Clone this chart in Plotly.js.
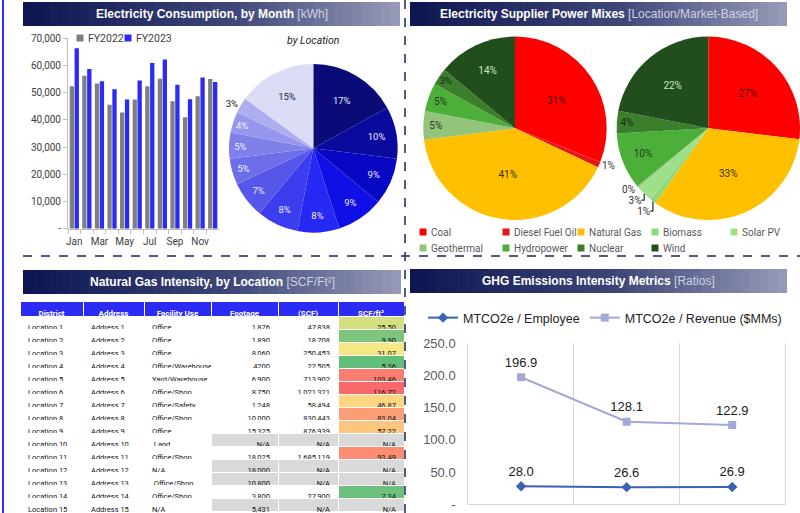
<!DOCTYPE html>
<html><head><meta charset="utf-8">
<script src="https://cdn.plot.ly/plotly-3.0.1.min.js"></script>
<style>html,body{margin:0;padding:0;background:#fff}#chart{width:800px;height:513px}</style>
</head><body><div id="chart"></div>
<script>
// ---------- DATA ----------
const months = ['Jan','Feb','Mar','Apr','May','Jun','Jul','Aug','Sep','Oct','Nov','Dec'];
const monthTickText = ['Jan','','Mar','','May','','Jul','','Sep','','Nov',''];
const fy2022 = [52400,56200,53400,45600,42700,47500,52400,55100,46900,41000,48700,55000];
const fy2023 = [66300,58700,54200,51300,47500,54500,60900,62200,52900,47600,55600,53900];
const fiscalYears = ['FY2022','FY2023'];
const kwhTickVals = [0,10000,20000,30000,40000,50000,60000,70000];
const kwhTickText = ['-','10,000','20,000','30,000','40,000','50,000','60,000','70,000'];

const pieLocations = ['Location 1','Location 2','Location 3','Location 4','Location 5','Location 6','Location 7','Location 8','Location 9','Location 10','Location 11','Location 12'];
const pieLocationShare = [17,10,9,9,8,8,7,5,5,4,3,15];

const sources = ['Coal','Diesel Fuel Oil','Natural Gas','Biomass','Solar PV','Geothermal','Hydropower','Nuclear','Wind'];
const locationBasedMix = [31,1,41,0,0,5,5,3,14];
const marketBasedMix = [27,0,33,1,3,0.3,10,4,22];

const districts = ['Location 1','Location 2','Location 3','Location 4','Location 5','Location 6','Location 7','Location 8','Location 9','Location 10','Location 11','Location 12','Location 13','Location 14','Location 15'];
const addresses = ['Address 1','Address 2','Address 3','Address 4','Address 5','Address 6','Address 7','Address 8','Address 9','Address 10','Address 11','Address 12','Address 13','Address 14','Address 15'];
const facilityUses = ['Office','Office','Office','Office/Warehouse','Yard/Warehouse','Office/Shop','Office/Safety','Office/Shop','Office',' Land','Office/Shop','N/A',' Office/Shop','Office/Shop','N/A'];
const footage = ['1,876','1,890','8,060','4200','6,900','8,750','1,248','10,000','15,325','N/A','18,025','18,000','10,800','3,800','5,431'];
const annualSCF = ['47,838','18,708','250,453','22,505','713,902','1,021,321','58,494','830,443','876,939','N/A','1,685,119','N/A','N/A','27,900','N/A'];
const scfPerFt2 = [25.50,9.90,31.07,5.36,103.46,116.72,46.87,83.04,57.22,null,93.49,null,null,7.34,null];
const tableHeaders = ['District','Address','Facility Use','Footage','(SCF)','SCF/ft²'];

const ghgPeriods = ['FY2021','FY2022','FY2023'];
const perEmployee = [28.0,26.6,26.9];
const perRevenue = [196.9,128.1,122.9];
const ghgTickVals = [0,50,100,150,200,250];
const ghgTickText = ['-','50.0','100.0','150.0','200.0','250.0'];

// ---------- STYLE ----------
const W = 800, H = 513;
const px = x => x / W;
const py = y => 1 - y / H;
const fyColors = ['#7f7f7f','#2b2bf5'];
const sourceColors = ['#ff0000','#e81515','#ffc000','#8fd97c','#9ee08a','#92c47c','#4caf3a','#3b7f2c','#224d1d'];
const sourceTextColors = ['#4a0d0d','#333','#3a3000','#223','#223','#2a3a20','#1f3a14','#162c10','#cfe6c2'];
const locColors = ['#0b0b78','#0a0a9c','#0707c4','#1010e6','#2828f5','#3d3df0','#5656e8','#6e6ee8','#8080ea','#9696ee','#adadf0','#dcdcf6'];
const locTextColors = ['#e8e8ff','#e8e8ff','#e8e8ff','#e8e8ff','#e8e8ff','#e8e8ff','#e8e8ff','#f0f0ff','#f0f0ff','#f0f0ff','#222','#1a1a50'];

function hex(c){return [parseInt(c.slice(1,3),16),parseInt(c.slice(3,5),16),parseInt(c.slice(5,7),16)];}
function mix(a,b,t){const A=hex(a),B=hex(b);return 'rgb('+A.map((v,i)=>Math.round(v+(B[i]-v)*t)).join(',')+')';}
function gradStops(t){const s=[[0,'#0d1550'],[0.55,'#3d4677'],[1,'#979bb8']];for(let i=0;i<s.length-1;i++){if(t<=s[i+1][0]){return mix(s[i][1],s[i+1][1],(t-s[i][0])/(s[i+1][0]-s[i][0]));}}return s[s.length-1][1];}

const shapes = [];
const annotations = [];
function header(x0,x1,y0,y1,html){
  const n = 40;
  for(let i=0;i<n;i++){
    const a = x0 + (x1-x0)*i/n, b = x0 + (x1-x0)*(i+1)/n + 0.6;
    shapes.push({type:'rect',xref:'paper',yref:'paper',x0:px(a),x1:px(Math.min(b,x1)),y0:py(y1),y1:py(y0),
      fillcolor:gradStops((i+0.5)/n),line:{width:0},layer:'below'});
  }
  annotations.push({xref:'paper',yref:'paper',x:px((x0+x1)/2),y:py((y0+y1)/2),xanchor:'center',yanchor:'middle',
    showarrow:false,text:html,font:{family:'Liberation Sans, Arial',size:12,color:'#ffffff'}});
}
const sub = t => ' <span style="font-weight:normal;color:#cfd1e3">'+t+'</span>';
header(23,400,2,26,'<b>Electricity Consumption, by Month</b>'+sub('[kWh]'));
header(410,787,2,26,'<b>Electricity Supplier Power Mixes</b>'+sub('[Location/Market-Based]'));
header(23,401,270,294,'<b>Natural Gas Intensity, by Location</b>'+sub('[SCF/Ft²]'));
header(410,787,269,293,'<b>GHG Emissions Intensity Metrics</b>'+sub('[Ratios]'));

// frame lines
shapes.push({type:'line',xref:'paper',yref:'paper',x0:px(3),x1:px(3),y0:0,y1:1,line:{color:'#3030ff',width:2}});
shapes.push({type:'line',xref:'paper',yref:'paper',x0:px(405),x1:px(405),y0:0,y1:1,line:{color:'#1c2560',width:1.5,dash:'dash'}});
shapes.push({type:'line',xref:'paper',yref:'paper',x0:px(23),x1:1,y0:py(256),y1:py(256),line:{color:'#1c2560',width:1.5,dash:'dash'}});

annotations.push({xref:'paper',yref:'paper',x:px(313),y:py(40),xanchor:'center',yanchor:'middle',showarrow:false,
  text:'<i>by Location</i>',font:{family:'Roboto',size:10.5,color:'#222'}});

// legend keys (swatch + label) for the bar chart and the supplier pies
function legendKey(x,y,color,label,size,fontColor){
  shapes.push({type:'rect',xref:'paper',yref:'paper',x0:px(x-3.5),x1:px(x+3.5),y0:py(y+3.5),y1:py(y-3.5),fillcolor:color,line:{width:0}});
  annotations.push({xref:'paper',yref:'paper',x:px(x+6),y:py(y),xanchor:'left',yanchor:'middle',showarrow:false,
    text:label,font:{family:'Roboto',size:size,color:fontColor}});
}
const barKeyX = [80,128];
fiscalYears.forEach((fy,i)=>legendKey(barKeyX[i],38,fyColors[i],fy,10.5,'#404040'));
const srcKeyX = [423,506,581,655,734], srcKeyY = [232,248];
sources.forEach((s,i)=>legendKey(srcKeyX[i%5],srcKeyY[Math.floor(i/5)],sourceColors[i],s,10,'#595959'));

// intensity colour scale (green - yellow - red)
function intensityColor(v){
  if(v===null) return '#d9d9d9';
  const vals = scfPerFt2.filter(x=>x!==null);
  const lo = Math.min(...vals), hi = Math.max(...vals), mid = 33;
  if(v<=mid) return mix('#63be7b','#ffeb84',(v-lo)/(mid-lo));
  return mix('#ffeb84','#f8696b',(v-mid)/(hi-mid));
}
const naRow = scfPerFt2.map(v=>v===null);
const white = districts.map(()=>'#ffffff');
const grayOrWhite = naRow.map(n=>n?'#d9d9d9':'#ffffff');
const intensityText = scfPerFt2.map(v=>v===null?'N/A':v.toFixed(2));

// ---------- TRACES ----------
const traces = [
  {type:'bar',x:months,y:fy2022,name:fiscalYears[0],marker:{color:fyColors[0]},xaxis:'x',yaxis:'y',showlegend:false,hoverinfo:'skip'},
  {type:'bar',x:months,y:fy2023,name:fiscalYears[1],marker:{color:fyColors[1]},xaxis:'x',yaxis:'y',showlegend:false,hoverinfo:'skip'},
  {type:'pie',labels:pieLocations,values:pieLocationShare,sort:false,direction:'clockwise',rotation:0,
   domain:{x:[px(229),px(397.6)],y:[py(232.6),py(64)]},showlegend:false,
   marker:{colors:locColors,line:{width:0}},
   textinfo:'percent',texttemplate:'%{percent:.0%}',
   textposition:['inside','inside','inside','inside','inside','inside','inside','inside','inside','inside','outside','inside'],
   insidetextorientation:'horizontal',
   insidetextfont:{family:'Roboto',size:9.5,color:locTextColors},
   outsidetextfont:{family:'Roboto',size:9.5,color:'#222'},hoverinfo:'skip'},
  {type:'pie',labels:sources,values:locationBasedMix,sort:false,direction:'clockwise',rotation:0,showlegend:false,
   domain:{x:[px(423.3),px(606.7)],y:[py(220),py(36.6)]},
   marker:{colors:sourceColors,line:{width:0}},
   text:locationBasedMix.map(v=>v>0?Math.round(v)+'%':''),textinfo:'text',
   textposition:['inside','outside','inside','inside','inside','inside','inside','inside','inside'],
   insidetextorientation:'horizontal',
   insidetextfont:{family:'Roboto',size:10,color:sourceTextColors},
   outsidetextfont:{family:'Roboto',size:10,color:'#333'},hoverinfo:'skip'},
  {type:'pie',labels:sources,values:marketBasedMix,sort:false,direction:'clockwise',rotation:0,showlegend:false,
   domain:{x:[px(616.6),px(800)],y:[py(220),py(36.6)]},
   marker:{colors:sourceColors,line:{width:0}},
   text:marketBasedMix.map(v=>v>0?Math.round(v)+'%':''),textinfo:'text',
   textposition:['inside','inside','inside','outside','outside','outside','inside','inside','inside'],
   insidetextorientation:'horizontal',
   insidetextfont:{family:'Roboto',size:10,color:sourceTextColors},
   outsidetextfont:{family:'Roboto',size:10,color:'#333'},hoverinfo:'skip'},
  {type:'table',domain:{x:[px(20),px(404)],y:[0,py(301.7)]},
   columnwidth:[63,61,67,67,60,66],
   header:{values:tableHeaders,align:'center',height:15,fill:{color:'#2b2bf5'},line:{color:'#ffffff',width:1},
     font:{family:'Roboto',size:8,color:'#ffffff',weight:'bold'}},
   cells:{values:[districts,addresses,facilityUses,footage,annualSCF,intensityText],
     align:['left','left','left','right','right','right'],height:13,
     fill:{color:[white,white,white,grayOrWhite,grayOrWhite,scfPerFt2.map(intensityColor)]},
     line:{color:'#ffffff',width:1},font:{family:'Roboto',size:7.5,color:'#111'}}},
  {type:'scatter',mode:'lines+markers',x:ghgPeriods,y:perEmployee,name:'MTCO2e / Employee',xaxis:'x2',yaxis:'y2',
   line:{color:'#3d62b5',width:2},marker:{symbol:'diamond',size:8,color:'#3d62b5'},hoverinfo:'skip'},
  {type:'scatter',mode:'lines+markers',x:ghgPeriods,y:perRevenue,name:'MTCO2e / Revenue ($MMs)',xaxis:'x2',yaxis:'y2',
   line:{color:'#a0a9d9',width:2},marker:{symbol:'square',size:8,color:'#a0a9d9'},hoverinfo:'skip'},
  {type:'scatter',mode:'markers+text',x:ghgPeriods,y:perEmployee,text:perEmployee.map(v=>v.toFixed(1)),textposition:'top center',
   marker:{size:10,color:'rgba(0,0,0,0)'},
   xaxis:'x2',yaxis:'y2',showlegend:false,textfont:{family:'Liberation Sans, Arial',size:13,color:'#1a1a1a'},hoverinfo:'skip'},
  {type:'scatter',mode:'markers+text',x:ghgPeriods,y:perRevenue,text:perRevenue.map(v=>v.toFixed(1)),textposition:'top center',
   marker:{size:10,color:'rgba(0,0,0,0)'},
   xaxis:'x2',yaxis:'y2',showlegend:false,textfont:{family:'Liberation Sans, Arial',size:13,color:'#1a1a1a'},hoverinfo:'skip'}
];

const layout = {
  width:W,height:H,margin:{l:0,r:0,t:0,b:0,autoexpand:false},paper_bgcolor:'#ffffff',plot_bgcolor:'#ffffff',
  font:{family:'Roboto',color:'#404040'},
  barmode:'group',bargap:0.22,bargroupgap:0.12,
  xaxis:{domain:[px(68),px(219)],anchor:'y',type:'category',tickmode:'array',tickvals:months,ticktext:monthTickText,tickangle:0,
    tickson:'boundaries',ticks:'outside',ticklen:4,tickcolor:'#bfbfbf',showline:true,linecolor:'#bfbfbf',showgrid:false,
    ticklabelstandoff:3,tickfont:{family:'Roboto',size:10,color:'#404040'},fixedrange:true},
  yaxis:{domain:[py(228.7),py(38.3)],anchor:'x',range:[0,70000],tickmode:'array',tickvals:kwhTickVals,ticktext:kwhTickText,
    ticks:'outside',ticklen:4,tickcolor:'#bfbfbf',showline:true,linecolor:'#bfbfbf',showgrid:false,zeroline:false,
    tickfont:{family:'Roboto',size:10,color:'#404040'},fixedrange:true},
  xaxis2:{domain:[px(468.3),px(785)],anchor:'y2',type:'category',range:[-0.5,2.5],tickson:'boundaries',showgrid:true,gridcolor:'#d9d9d9',
    showline:true,linecolor:'#d9d9d9',showticklabels:false,ticks:'',fixedrange:true},
  yaxis2:{domain:[py(504.3),py(343)],anchor:'x2',range:[0,250],tickmode:'array',tickvals:ghgTickVals,ticktext:ghgTickText,
    showgrid:false,zeroline:false,showline:true,mirror:true,linecolor:'#d9d9d9',ticks:'',ticklabelstandoff:9,
    tickfont:{family:'Liberation Sans, Arial',size:13,color:'#595959'},fixedrange:true},
  showlegend:true,
  legend:{orientation:'h',x:px(423),y:py(318),xanchor:'left',yanchor:'middle',bgcolor:'rgba(0,0,0,0)',
    font:{family:'Liberation Sans, Arial',size:12.5,color:'#222'},itemwidth:30},
  shapes:shapes,annotations:annotations
};
Plotly.newPlot('chart',traces,layout,{staticPlot:true,displayModeBar:false});
</script></body></html>
